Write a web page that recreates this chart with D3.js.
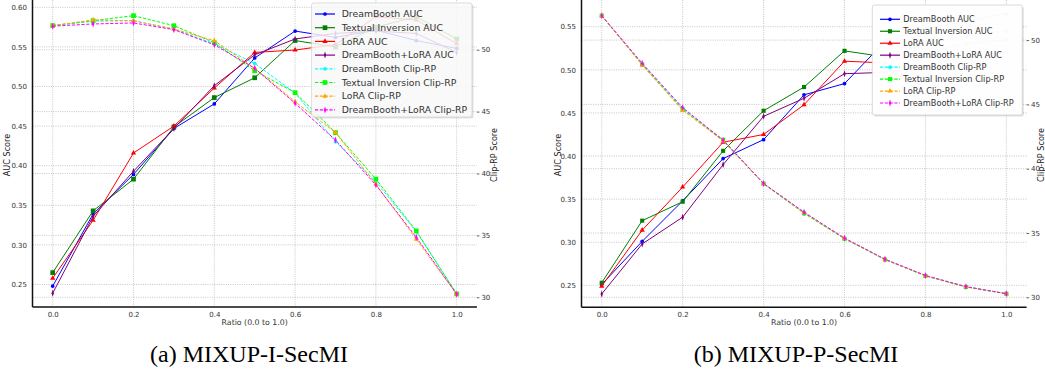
<!DOCTYPE html>
<html>
<head>
<meta charset="utf-8">
<script src="https://cdn.jsdelivr.net/npm/d3@7/dist/d3.min.js"></script>
<style>
  body { margin: 0; background: #fff; }
  text { font-family: "DejaVu Sans", sans-serif; }
</style>
</head>
<body>
<svg id="chart" width="1045" height="373"></svg>
<script>
// ---- data ----
const ratios = [0, 0.1, 0.2, 0.3, 0.4, 0.5, 0.6, 0.7, 0.8, 0.9, 1.0];
const seriesNames = ["DreamBooth AUC", "Textual Inversion AUC", "LoRA AUC", "DreamBooth+LoRA AUC",
                     "DreamBooth Clip-RP", "Textual Inversion Clip-RP", "LoRA Clip-RP", "DreamBooth+LoRA Clip-RP"];

// (a) MIXUP-I-SecMI
const iDbAuc   = [0.248, 0.339, 0.389, 0.447, 0.478, 0.536, 0.570, 0.562, 0.571, 0.558, 0.548];
const iTiAuc   = [0.265, 0.343, 0.383, 0.449, 0.486, 0.511, 0.558, 0.550, 0.575, 0.588, 0.560];
const iLoraAuc = [0.258, 0.331, 0.416, 0.450, 0.498, 0.543, 0.546, 0.553, 0.588, 0.584, 0.554];
const iDblAuc  = [0.239, 0.336, 0.393, 0.447, 0.501, 0.540, 0.560, 0.567, 0.570, 0.567, 0.543];
const iDbClip   = [51.95, 52.30, 52.34, 51.65, 50.48, 48.90, 46.50, 42.57, 39.34, 35.30, 30.27];
const iTiClip   = [51.95, 52.34, 52.75, 51.94, 50.57, 48.30, 46.53, 43.30, 39.55, 35.36, 30.27];
const iLoraClip = [51.95, 52.40, 52.34, 51.67, 50.73, 48.50, 45.80, 43.30, 39.13, 34.69, 30.25];
const iDblClip  = [51.90, 52.08, 52.16, 51.62, 50.40, 48.50, 45.67, 42.70, 39.07, 34.85, 30.25];

// (b) MIXUP-P-SecMI
const pDbAuc   = [0.251, 0.301, 0.348, 0.397, 0.419, 0.471, 0.484, 0.533, 0.548, 0.556, 0.565];
const pTiAuc   = [0.253, 0.325, 0.347, 0.406, 0.4525, 0.480, 0.522, 0.515, 0.530, 0.540, 0.545];
const pLoraAuc = [0.249, 0.314, 0.364, 0.416, 0.425, 0.4595, 0.510, 0.508, 0.520, 0.530, 0.535];
const pDblAuc  = [0.240, 0.298, 0.329, 0.390, 0.446, 0.467, 0.4955, 0.497, 0.505, 0.515, 0.520];
const pDbClip   = [51.90, 48.12, 44.70, 42.18, 38.85, 36.60, 34.59, 32.95, 31.68, 30.82, 30.28];
const pTiClip   = [51.90, 48.10, 44.60, 42.25, 38.83, 36.52, 34.55, 32.93, 31.66, 30.80, 30.28];
const pLoraClip = [51.90, 48.05, 44.55, 42.15, 38.83, 36.58, 34.58, 32.95, 31.68, 30.82, 30.28];
const pDblClip  = [51.90, 48.20, 44.75, 42.22, 38.85, 36.62, 34.60, 32.96, 31.70, 30.83, 30.28];

const xTicks = [0, 0.2, 0.4, 0.6, 0.8, 1.0];
const aucTicksI = [0.25, 0.30, 0.35, 0.40, 0.45, 0.50, 0.55, 0.60];
const aucTicksP = [0.25, 0.30, 0.35, 0.40, 0.45, 0.50, 0.55];
const clipTicks = [30, 35, 40, 45, 50];
const captions = ["(a) MIXUP-I-SecMI", "(b) MIXUP-P-SecMI"];

// ---- styles ----
const colors = ["#0000ff", "#008000", "#ff0000", "#800080", "#00ffff", "#00ff00", "#ffa500", "#ff00ff"];
const markers = ["circle", "square", "triangle", "diamond", "circle", "square", "triangle", "diamond"];

const panels = [
  { auc: [iDbAuc, iTiAuc, iLoraAuc, iDblAuc], clip: [iDbClip, iTiClip, iLoraClip, iDblClip],
    left: 32.5, right: 476.9, top: 0, bottom: 307,
    aucDomain: [0.2216, 0.6092], clipDomain: [29.216, 54.015], aucTicks: aucTicksI,
    sq: 22, leg: {x: 311.7, y: 3, w: 160.3, h: 114, row0: 14, dy: 13.7, s0: 315, s1: 335, tx: 341.7, fs: 9.3, op: 0.8},
    yLabX: 7.5, y2LabX: 494, caption: captions[0], capX: 249 },
  { auc: [pDbAuc, pTiAuc, pLoraAuc, pDblAuc], clip: [pDbClip, pTiClip, pLoraClip, pDblClip],
    left: 581.5, right: 1026.6, top: 0, bottom: 307.3,
    aucDomain: [0.2245, 0.581], clipDomain: [29.222, 53.118], aucTicks: aucTicksP,
    sq: 17, leg: {x: 872.3, y: 5, w: 150, h: 110, row0: 17.3, dy: 11.96, s0: 880, s1: 900, tx: 903.3, fs: 8.2, op: 0.97},
    yLabX: 557.7, y2LabX: 1041.5, caption: captions[1], capX: 796 }
];

const svg = d3.select("#chart");
svg.append("rect").attr("width", 1045).attr("height", 373).attr("fill", "#fff");

function symbolPath(type, sq) {
  if (type === "circle") return d3.symbol(d3.symbolCircle, 11)();
  if (type === "square") return d3.symbol(d3.symbolSquare, sq)();
  if (type === "triangle") return d3.symbol(d3.symbolTriangle, 12)();
  return d3.symbol(d3.symbolDiamond, 14)();
}

panels.forEach(function(p) {
  const x = d3.scaleLinear().domain([-0.05, 1.05]).range([p.left, p.right]);
  const y = d3.scaleLinear().domain(p.aucDomain).range([p.bottom, p.top]);
  const y2 = d3.scaleLinear().domain(p.clipDomain).range([p.bottom, p.top]);
  const g = svg.append("g");

  // grid
  const grid = g.append("g").attr("stroke", "#b8b8b8").attr("stroke-width", 0.8)
    .attr("stroke-dasharray", "1,1.3");
  grid.selectAll(".gx").data(xTicks).enter().append("line")
    .attr("x1", d => x(d)).attr("x2", d => x(d)).attr("y1", p.top).attr("y2", p.bottom);
  grid.selectAll(".gy").data(p.aucTicks).enter().append("line")
    .attr("x1", p.left).attr("x2", p.right).attr("y1", d => y(d)).attr("y2", d => y(d));
  grid.selectAll(".gy2").data(clipTicks).enter().append("line")
    .attr("x1", p.left).attr("x2", p.right).attr("y1", d => y2(d)).attr("y2", d => y2(d));

  const line = d3.line().x((d, i) => x(ratios[i]));

  function drawSeries(values, k, scale, dashed) {
    g.append("path").datum(values)
      .attr("d", line.y(d => scale(d)))
      .attr("fill", "none").attr("stroke", colors[k]).attr("stroke-width", 1)
      .attr("stroke-dasharray", dashed ? "3.2,1.6" : null);
    g.append("g").selectAll("path").data(values).enter().append("path")
      .attr("d", symbolPath(markers[k], p.sq))
      .attr("transform", (d, i) => "translate(" + x(ratios[i]) + "," + scale(d) + ")" +
            (markers[k] === "diamond" ? " scale(0.6,1)" : ""))
      .attr("fill", colors[k]);
  }
  p.auc.forEach((v, k) => drawSeries(v, k, y, false));
  p.clip.forEach((v, k) => drawSeries(v, k + 4, y2, true));

  // axes
  const ax = g.append("g").attr("transform", "translate(0," + p.bottom + ")")
    .call(d3.axisBottom(x).tickValues(xTicks).tickFormat(d3.format(".1f")).tickSize(0).tickPadding(5));
  const ay = g.append("g").attr("transform", "translate(" + p.left + ",0)")
    .call(d3.axisLeft(y).tickValues(p.aucTicks).tickFormat(d3.format(".2f")).tickSize(0).tickPadding(5.5));
  const ay2 = g.append("g").attr("transform", "translate(" + p.right + ",0)")
    .call(d3.axisRight(y2).tickValues(clipTicks).tickFormat(d3.format("d")).tickSize(2.5).tickPadding(2));
  [ax, ay, ay2].forEach(a => {
    a.selectAll("text").attr("fill", "#333").style("font-size", "7px");
    a.selectAll(".domain").remove();
  });
  ay2.selectAll(".tick line").attr("stroke", "#333").attr("stroke-width", 0.8);

  // spines
  g.append("line").attr("x1", p.left).attr("x2", p.left).attr("y1", p.top).attr("y2", p.bottom)
    .attr("stroke", "#111").attr("stroke-width", 1.5);
  g.append("line").attr("x1", p.left).attr("x2", p.right).attr("y1", p.bottom).attr("y2", p.bottom)
    .attr("stroke", "#111").attr("stroke-width", 1.5);

  // labels
  g.append("text").attr("x", x(0.5)).attr("y", 325).attr("text-anchor", "middle")
    .style("font-size", "7.8px").attr("fill", "#333").text("Ratio (0.0 to 1.0)");
  g.append("text").attr("transform", "translate(" + p.yLabX + "," + 155 + ") rotate(-90)")
    .attr("text-anchor", "middle").attr("dy", "0.35em").style("font-size", "8.1px").attr("fill", "#222")
    .text("AUC Score");
  g.append("text").attr("transform", "translate(" + p.y2LabX + "," + 155 + ") rotate(-90)")
    .attr("text-anchor", "middle").attr("dy", "0.35em").style("font-size", "8.1px").attr("fill", "#222")
    .text("Clip-RP Score");

  // legend
  const L = p.leg;
  const lg = g.append("g");
  lg.append("rect").attr("x", L.x + 1.5).attr("y", L.y + 1.5).attr("width", L.w).attr("height", L.h)
    .attr("rx", 2).attr("fill", "#888").attr("opacity", 0.25);
  lg.append("rect").attr("x", L.x).attr("y", L.y).attr("width", L.w).attr("height", L.h)
    .attr("rx", 2).attr("fill", "#fff").attr("fill-opacity", L.op)
    .attr("stroke", "#d0d0d0").attr("stroke-width", 0.8);
  seriesNames.forEach(function(name, k) {
    const ry = L.y + L.row0 - 3 + k * L.dy;
    lg.append("line").attr("x1", L.s0).attr("x2", L.s1).attr("y1", ry).attr("y2", ry)
      .attr("stroke", colors[k]).attr("stroke-width", 1.2)
      .attr("stroke-dasharray", k >= 4 ? "3.2,1.6" : null);
    lg.append("path").attr("d", symbolPath(markers[k], p.sq))
      .attr("transform", "translate(" + ((L.s0 + L.s1) / 2) + "," + ry + ")" +
            (markers[k] === "diamond" ? " scale(0.6,1)" : ""))
      .attr("fill", colors[k]);
    lg.append("text").attr("x", L.tx).attr("y", ry).attr("dy", "0.35em")
      .style("font-size", L.fs + "px").attr("fill", "#333").text(name);
  });

  // caption
  svg.append("text").attr("x", p.capX).attr("y", 362).attr("text-anchor", "middle")
    .style("font-family", "'Liberation Serif', serif").style("font-size", "24px").attr("fill", "#000")
    .text(p.caption);
});
</script>
</body>
</html>
